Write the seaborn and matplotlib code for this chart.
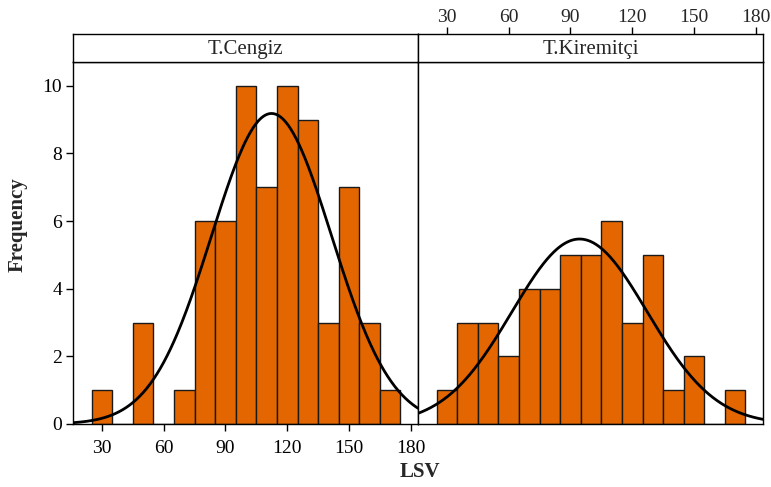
import numpy as np
import pandas as pd
import matplotlib
matplotlib.use("Agg")
import matplotlib.pyplot as plt
import seaborn as sns

# bin centres (width 10) and counts
centros = [30, 40, 50, 60, 70, 80, 90, 100, 110, 120, 130, 140, 150, 160, 170]
cengiz = [1, 0, 3, 0, 1, 6, 6, 10, 7, 10, 9, 3, 7, 3, 1]
kiremitci = [1, 3, 3, 2, 4, 4, 5, 5, 6, 3, 5, 1, 2, 0, 1]
paineis = ["T.Cengiz", "T.Kiremitçi"]
ticks_x = [30, 60, 90, 120, 150, 180]
ticks_y = [0, 2, 4, 6, 8, 10]

sns.set_theme(style="white")
plt.rcParams["font.family"] = ["Liberation Serif", "DejaVu Serif"]
plt.rcParams["font.size"] = 15

LARGURA = 10
XLIM = (16, 183.5)
YLIM = (0, 10.7)
LARANJA = "#E36600"
FONTE = 15
FONTE_TICKS = 14

W, H = 771, 487
fig = plt.figure(figsize=(W / 100, H / 100), dpi=100)


def px(x0, y0, x1, y1):
    return [x0 / W, (H - y1) / H, (x1 - x0) / W, (y1 - y0) / H]


posicoes = [(73, 418), (418, 763)]
dados = [cengiz, kiremitci]

for i, (nome, contagens, (x0, x1)) in enumerate(zip(paineis, dados, posicoes)):
    ax = fig.add_axes(px(x0, 62, x1, 424))
    df = pd.DataFrame({"LSV": centros, "n": contagens})
    sns.histplot(data=df, x="LSV", weights="n", binwidth=LARGURA,
                 binrange=(centros[0] - LARGURA / 2, centros[-1] + LARGURA / 2), ax=ax,
                 color=LARANJA, alpha=1, edgecolor="#1a1a1a", linewidth=1)

    # curva normal ajustada aos dados
    amostra = np.repeat(centros, contagens)
    media, dp = amostra.mean(), amostra.std()
    xs = np.linspace(XLIM[0], XLIM[1], 400)
    ys = len(amostra) * LARGURA * np.exp(-0.5 * ((xs - media) / dp) ** 2) / (dp * np.sqrt(2 * np.pi))
    sns.lineplot(x=xs, y=ys, ax=ax, color="black", linewidth=2)

    ax.set_xlim(*XLIM)
    ax.set_ylim(*YLIM)
    ax.set_xlabel("")
    ax.set_ylabel("")
    for s in ax.spines.values():
        s.set_color("black")
        s.set_linewidth(1)
    ax.tick_params(direction="out", length=5, pad=3, color="black", labelcolor="black",
                   width=1, labelsize=FONTE_TICKS)

    if i == 0:
        ax.set_xticks(ticks_x)
        ax.set_yticks(ticks_y)
        ax.tick_params(bottom=True, left=True)
        ax.tick_params(axis="x", pad=6.5)
    else:
        ax.set_xticks([])
        ax.set_yticks([])

    # faixa com o nome do painel
    faixa = fig.add_axes(px(x0, 34, x1, 62))
    faixa.set_xlim(*XLIM)
    faixa.set_yticks([])
    faixa.text(0.5, 0.45, nome, transform=faixa.transAxes, ha="center", va="center",
               fontsize=FONTE)
    for s in faixa.spines.values():
        s.set_color("black")
        s.set_linewidth(1)
    if i == 1:
        faixa.set_xticks(ticks_x)
        faixa.tick_params(top=True, bottom=False, labeltop=True, labelbottom=False,
                          direction="out", length=5, pad=1, color="black", width=1,
                          labelsize=FONTE_TICKS)
    else:
        faixa.set_xticks([])

fig.text(18 / W, 1 - 225 / H, "Frequency", rotation=90, ha="center", va="center",
         fontweight="bold", fontsize=FONTE)
fig.text(420 / W, 1 - 472 / H, "LSV", ha="center", va="center", fontweight="bold", fontsize=FONTE)

fig.savefig("out.png", dpi=100)
